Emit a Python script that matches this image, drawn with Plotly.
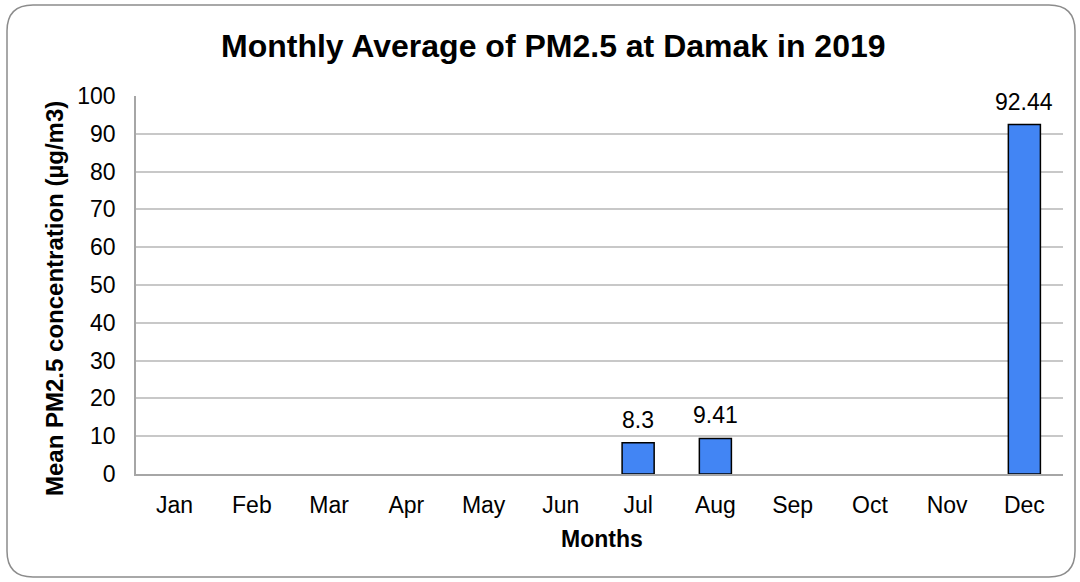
import plotly.graph_objects as go

months = ["Jan", "Feb", "Mar", "Apr", "May", "Jun", "Jul", "Aug", "Sep", "Oct", "Nov", "Dec"]
pm25 = [None, None, None, None, None, None, 8.3, 9.41, None, None, None, 92.44]
labels = ["", "", "", "", "", "", "8.3", "9.41", "", "", "", "92.44"]
y_ticks = [0, 10, 20, 30, 40, 50, 60, 70, 80, 90, 100]

W, H = 1080, 582
L, R, T, B = 136, 17, 96, 108
PW, PH = W - L - R, H - T - B

def px(x):
    return (x - L) / PW

def py(y):
    return (H - B - y) / PH

FONT = "Liberation Sans, Arial, sans-serif"

fig = go.Figure()
fig.add_trace(go.Bar(
    x=months, y=pm25,
    marker=dict(color="#4285F4", line=dict(color="#000000", width=1.5)),
    hoverinfo="x+y",
))

for m, v, t in zip(months, pm25, labels):
    if v is not None:
        fig.add_annotation(x=m, y=v, text=t, showarrow=False, yanchor="bottom",
                           yshift=8, font=dict(size=23, color="#000000", family=FONT))

# rounded border
x0, y0, x1, y1, r = 7, 5, 1075, 577, 26
path = (f"M {px(x0 + r)},{py(y0)} L {px(x1 - r)},{py(y0)} "
        f"Q {px(x1)},{py(y0)} {px(x1)},{py(y0 + r)} "
        f"L {px(x1)},{py(y1 - r)} Q {px(x1)},{py(y1)} {px(x1 - r)},{py(y1)} "
        f"L {px(x0 + r)},{py(y1)} Q {px(x0)},{py(y1)} {px(x0)},{py(y1 - r)} "
        f"L {px(x0)},{py(y0 + r)} Q {px(x0)},{py(y0)} {px(x0 + r)},{py(y0)} Z")
fig.add_shape(type="path", xref="paper", yref="paper", path=path,
              line=dict(color="#8C8C8C", width=1.5), layer="below")

fig.add_annotation(x=px(553), y=py(46), xref="paper", yref="paper",
                   xanchor="center", yanchor="middle",
                   text="<b>Monthly Average of PM2.5 at Damak in 2019</b>", showarrow=False,
                   font=dict(size=32, color="#000000", family=FONT))
fig.add_annotation(x=px(602), y=py(539), xref="paper", yref="paper",
                   xanchor="center", yanchor="middle",
                   text="<b>Months</b>", showarrow=False,
                   font=dict(size=23, color="#000000", family=FONT))
fig.add_annotation(x=px(54), y=py(299), xref="paper", yref="paper",
                   xanchor="center", yanchor="middle",
                   text="<b>Mean PM2.5 concentration (µg/m3)</b>", showarrow=False, textangle=-90,
                   font=dict(size=24, color="#000000", family=FONT))

fig.update_layout(
    width=W, height=H,
    margin=dict(l=L, r=R, t=T, b=B, pad=0),
    paper_bgcolor="#FFFFFF", plot_bgcolor="#FFFFFF",
    bargap=0.585,
    showlegend=False,
    font=dict(family=FONT, size=23, color="#000000"),
    xaxis=dict(
        type="category", categoryorder="array", categoryarray=months,
        showgrid=False, showline=True, linecolor="#A6A6A6", linewidth=1.5,
        ticks="outside", ticklen=10, tickcolor="rgba(0,0,0,0)",
        tickfont=dict(size=23, family=FONT, color="#000000"),
    ),
    yaxis=dict(
        range=[0, 100], tickvals=y_ticks, showgrid=True, gridcolor="#C8C8C8", gridwidth=1.5,
        showline=True, linecolor="#A6A6A6", linewidth=1.5, zeroline=False,
        ticks="outside", ticklen=14, tickcolor="rgba(0,0,0,0)",
        tickfont=dict(size=23, family=FONT, color="#000000"),
    ),
)

fig.write_html("out.html", config={"displayModeBar": False},
               post_script="document.body.style.margin='0';")
